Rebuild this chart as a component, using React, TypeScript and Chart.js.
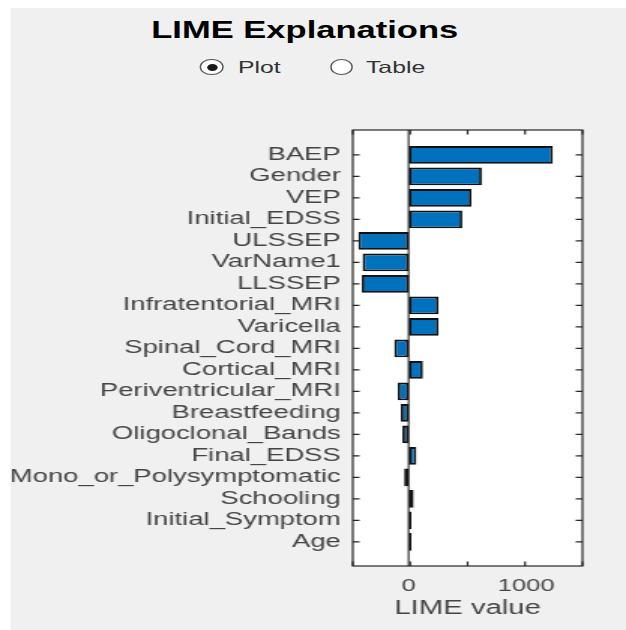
import React, { useEffect, useRef } from 'react';
import { Chart, registerables } from 'chart.js';

Chart.register(...registerables);

// ---- data ----
const FEATURES = [
  'BAEP',
  'Gender',
  'VEP',
  'Initial_EDSS',
  'ULSSEP',
  'VarName1',
  'LLSSEP',
  'Infratentorial_MRI',
  'Varicella',
  'Spinal_Cord_MRI',
  'Cortical_MRI',
  'Periventricular_MRI',
  'Breastfeeding',
  'Oligoclonal_Bands',
  'Final_EDSS',
  'Mono_or_Polysymptomatic',
  'Schooling',
  'Initial_Symptom',
  'Age',
];
const LIME_VALUES = [
  1228, 623, 535, 457, -428, -392, -398, 255, 255, -122, 122, -93, -66, -53, 66, -38, 43, 24, 24,
];
const X_MIN = -475;
const X_MAX = 1480;
const X_TICK_STEP = 500;
const X_TICK_LABELS = [0, 1000];
const Y_MIN = -0.16;
const Y_MAX = 20.12;
const TITLE = 'LIME Explanations';
const X_TITLE = 'LIME value';
const RADIO_OPTIONS = ['Plot', 'Table'];

// ---- layout (unstretched coordinates, whole figure is stretched horizontally) ----
const W = 417;
const H = 630;
const SX = 626 / W;
const FONT = '"Liberation Sans", Arial, Helvetica, sans-serif';
const AXIS_COLOR = '#262626';
const LABEL_COLOR = '#444444';
const BAR_COLOR = '#0072BD';

const BAR_POINTS = LIME_VALUES.map((v, i) => ({ x: v, y: i + 1 }));

const boxPlugin = {
  id: 'matlabBox',
  beforeDraw(chart: any) {
    const { ctx, chartArea: a } = chart;
    ctx.save();
    ctx.fillStyle = '#ffffff';
    ctx.fillRect(a.left, a.top, a.right - a.left, a.bottom - a.top);
    ctx.restore();
  },
  afterDatasetsDraw(chart: any) {
    const { ctx, chartArea: a, scales } = chart;
    const x = scales.x;
    const y = scales.y;
    const L = 4.5;
    ctx.save();
    // zero line
    const zx = x.getPixelForValue(0);
    ctx.strokeStyle = AXIS_COLOR;
    ctx.lineWidth = 1.1;
    ctx.beginPath();
    ctx.moveTo(zx, a.top);
    ctx.lineTo(zx, a.bottom);
    ctx.stroke();
    // tick marks, inward on all sides
    ctx.lineWidth = 1.2;
    ctx.beginPath();
    FEATURES.forEach((_f, i) => {
      const py = y.getPixelForValue(i + 1);
      ctx.moveTo(a.left, py);
      ctx.lineTo(a.left + L, py);
      ctx.moveTo(a.right, py);
      ctx.lineTo(a.right - L, py);
    });
    x.ticks.forEach((t: any) => {
      const px = x.getPixelForValue(t.value);
      ctx.moveTo(px, a.top);
      ctx.lineTo(px, a.top + L);
      ctx.moveTo(px, a.bottom);
      ctx.lineTo(px, a.bottom - L);
    });
    ctx.stroke();
    ctx.strokeRect(a.left, a.top, a.right - a.left, a.bottom - a.top);
    // x tick labels
    ctx.fillStyle = LABEL_COLOR;
    ctx.font = `17px ${FONT}`;
    ctx.textAlign = 'center';
    ctx.textBaseline = 'middle';
    X_TICK_LABELS.forEach((v) => {
      ctx.fillText(String(v), x.getPixelForValue(v), 586.5);
    });
    ctx.restore();
  },
};

function Radio({ cx, label, textX, checked }: { cx: number; label: string; textX: number; checked: boolean }) {
  const cy = 67;
  const d = 15.5;
  const dot = 7;
  return (
    <>
      <div
        style={{
          position: 'absolute',
          left: cx - d / 2,
          top: cy - d / 2,
          width: d,
          height: d,
          boxSizing: 'border-box',
          border: '1.3px solid #5a5a5a',
          borderRadius: '50%',
          background: '#ffffff',
        }}
      />
      {checked && (
        <div
          style={{
            position: 'absolute',
            left: cx - dot / 2,
            top: cy - dot / 2,
            width: dot,
            height: dot,
            borderRadius: '50%',
            background: '#1a1a1a',
          }}
        />
      )}
      <div
        style={{
          position: 'absolute',
          left: textX,
          top: 59,
          fontSize: 16.5,
          lineHeight: '16.5px',
          color: '#333333',
          whiteSpace: 'nowrap',
        }}
      >
        {label}
      </div>
    </>
  );
}

export default function App() {
  const canvasRef = useRef<HTMLCanvasElement>(null);

  useEffect(() => {
    if (!canvasRef.current) return;
    const chart = new Chart(canvasRef.current, {
      type: 'bar',
      data: {
        datasets: [
          {
            data: BAR_POINTS,
            backgroundColor: BAR_COLOR,
            borderColor: '#111111',
            borderWidth: 1.8,
            borderSkipped: false,
            barPercentage: 0.82,
            categoryPercentage: 1,
          },
        ],
      },
      options: {
        indexAxis: 'y',
        animation: false,
        responsive: false,
        maintainAspectRatio: false,
        layout: { padding: { left: 0, right: 29, top: 130, bottom: 0 } },
        plugins: {
          legend: { display: false },
          tooltip: { enabled: false },
          title: { display: false },
        },
        scales: {
          x: {
            type: 'linear',
            min: X_MIN,
            max: X_MAX,
            grid: { display: false, drawTicks: false },
            border: { display: false },
            ticks: {
              stepSize: X_TICK_STEP,
              includeBounds: false,
              display: false,
            },
            title: {
              display: true,
              text: X_TITLE,
              color: LABEL_COLOR,
              font: { family: FONT, size: 19.5 },
              padding: { top: 0, bottom: 9.3 },
            },
            afterFit: (s: any) => {
              s.height = H - 566;
            },
          },
          y: {
            type: 'linear',
            reverse: true,
            min: Y_MIN,
            max: Y_MAX,
            offset: false,
            grid: { display: false, drawTicks: false },
            border: { display: false },
            afterBuildTicks: (s: any) => {
              s.ticks = FEATURES.map((_f, i) => ({ value: i + 1 }));
            },
            ticks: {
              autoSkip: false,
              padding: 8,
              color: LABEL_COLOR,
              font: { family: FONT, size: 18.3 },
              callback: (v: any) => FEATURES[Number(v) - 1] ?? '',
            },
            afterFit: (s: any) => {
              s.width = 235;
            },
          },
        },
      },
      plugins: [boxPlugin],
    } as any);
    return () => chart.destroy();
  }, []);

  return (
    <div
      style={{
        position: 'absolute',
        left: 0,
        top: 0,
        width: W,
        height: H,
        overflow: 'hidden',
        transform: `scaleX(${SX})`,
        transformOrigin: '0 0',
        background: '#ffffff',
        fontFamily: FONT,
      }}
    >
      <div style={{ position: 'absolute', left: 7.33, top: 8, right: 0, bottom: 0, background: '#f0f0f0' }} />
      <div
        style={{
          position: 'absolute',
          left: 53,
          top: 18.5,
          width: 300,
          textAlign: 'center',
          fontSize: 23,
          lineHeight: '23px',
          fontWeight: 'bold',
          color: '#000000',
          whiteSpace: 'nowrap',
        }}
      >
        {TITLE}
      </div>
      <Radio cx={141} label={RADIO_OPTIONS[0]} textX={158.5} checked={true} />
      <Radio cx={227.6} label={RADIO_OPTIONS[1]} textX={243.8} checked={false} />
      <canvas
        ref={canvasRef}
        width={W}
        height={H}
        style={{ position: 'absolute', left: 0, top: 0, width: W, height: H }}
      />
    </div>
  );
}
